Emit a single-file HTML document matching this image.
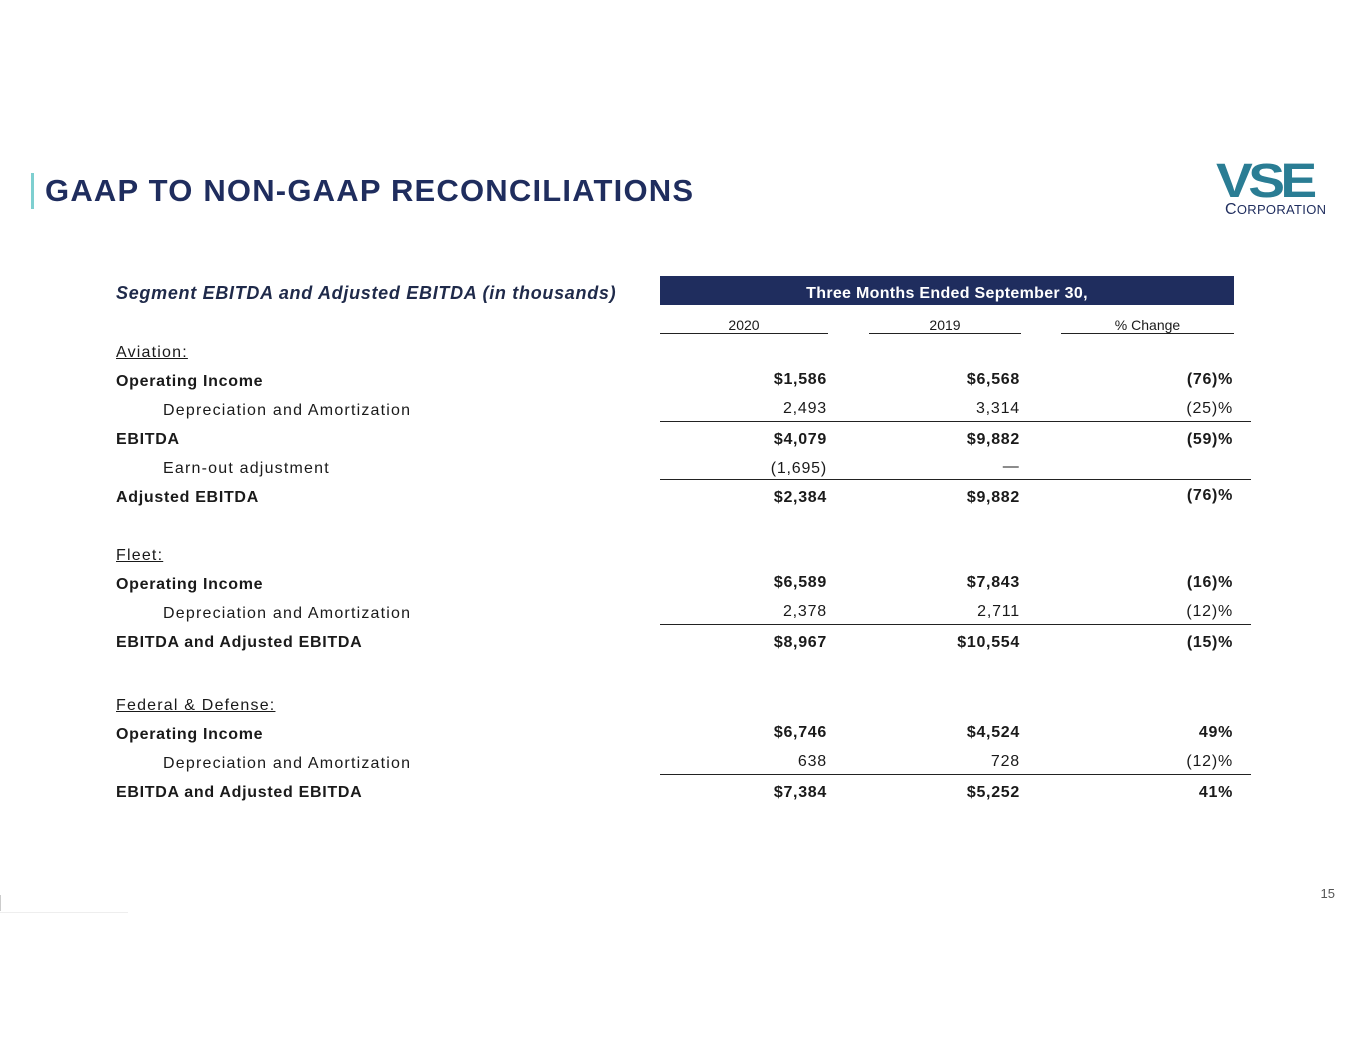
<!DOCTYPE html>
<html><head><style>
body{margin:0;width:1365px;height:1055px;background:#fff;position:relative;font-family:"Liberation Sans",sans-serif;color:#1a1a1a;overflow:hidden}
.a{position:absolute;white-space:nowrap;line-height:1}
.t{font-size:16px;letter-spacing:1.2px}
.b{font-weight:bold}
.b.t{letter-spacing:0.7px}
.r{text-align:right}
.n{letter-spacing:0.8px}
.l{position:absolute;height:1px;background:#222}
</style></head><body>
<div class="a" style="left:31px;top:173px;width:3px;height:36px;background:#7ecfd0"></div>
<div class="a b" style="left:45px;top:175px;font-size:31px;color:#1f2d5e;letter-spacing:1.2px">GAAP TO NON-GAAP RECONCILIATIONS</div>
<div class="a b" style="left:1216px;top:158px;font-size:48px;letter-spacing:-4px;color:#2a7d94;transform:scaleX(1.15);transform-origin:left">VSE</div>
<div class="a" style="left:1225px;top:202px;font-size:16px;color:#1f2d5e;letter-spacing:0.3px">C<span style="font-size:13px">ORPORATION</span></div>

<div class="a b" style="left:116px;top:284px;font-style:italic;font-size:18px;color:#1f2a4a;letter-spacing:0.7px">Segment EBITDA and Adjusted EBITDA (in thousands)</div>
<div class="a" style="left:660px;top:276px;width:574px;height:29px;background:#1f2d5e"></div>
<div class="a b" style="left:660px;top:286px;width:574px;text-align:center;color:#fff;font-size:16px;letter-spacing:0.3px">Three Months Ended September 30,</div>
<div class="a" style="left:660px;top:318px;width:168px;text-align:center;font-size:14px">2020</div>
<div class="a" style="left:869px;top:318px;width:152px;text-align:center;font-size:14px">2019</div>
<div class="a" style="left:1061px;top:318px;width:173px;text-align:center;font-size:14px">% Change</div>
<div class="l" style="left:660px;top:333px;width:168px"></div>
<div class="l" style="left:869px;top:333px;width:152px"></div>
<div class="l" style="left:1061px;top:333px;width:173px"></div>

<div class="a t" style="left:116px;top:345px;text-decoration:underline">Aviation:</div>
<div class="a t b" style="left:116px;top:374px">Operating Income</div>
<div class="a t" style="left:163px;top:403px">Depreciation and Amortization</div>
<div class="a t b" style="left:116px;top:432px">EBITDA</div>
<div class="a t" style="left:163px;top:461px">Earn-out adjustment</div>
<div class="a t b" style="left:116px;top:490px">Adjusted EBITDA</div>
<div class="a t" style="left:116px;top:548px;text-decoration:underline">Fleet:</div>
<div class="a t b" style="left:116px;top:577px">Operating Income</div>
<div class="a t" style="left:163px;top:606px">Depreciation and Amortization</div>
<div class="a t b" style="left:116px;top:635px">EBITDA and Adjusted EBITDA</div>
<div class="a t" style="left:116px;top:698px;text-decoration:underline">Federal &amp; Defense:</div>
<div class="a t b" style="left:116px;top:727px">Operating Income</div>
<div class="a t" style="left:163px;top:756px">Depreciation and Amortization</div>
<div class="a t b" style="left:116px;top:785px">EBITDA and Adjusted EBITDA</div>

<div class="l" style="left:660px;top:421px;width:591px"></div>
<div class="l" style="left:660px;top:479px;width:591px"></div>
<div class="l" style="left:660px;top:624px;width:591px"></div>
<div class="l" style="left:660px;top:774px;width:591px"></div>

<div class="a t b r" style="right:538px;top:372px">$1,586</div><div class="a t b r" style="right:345px;top:372px">$6,568</div><div class="a t b r" style="right:132px;top:372px">(76)%</div>
<div class="a t r n" style="right:538px;top:401px">2,493</div><div class="a t r n" style="right:345px;top:401px">3,314</div><div class="a t r n" style="right:132px;top:401px">(25)%</div>
<div class="a t b r" style="right:538px;top:432px">$4,079</div><div class="a t b r" style="right:345px;top:432px">$9,882</div><div class="a t b r" style="right:132px;top:432px">(59)%</div>
<div class="a t r n" style="right:538px;top:461px">(1,695)</div><div class="a t r" style="right:345px;top:459px">—</div>
<div class="a t b r" style="right:538px;top:490px">$2,384</div><div class="a t b r" style="right:345px;top:490px">$9,882</div><div class="a t b r" style="right:132px;top:488px">(76)%</div>
<div class="a t b r" style="right:538px;top:575px">$6,589</div><div class="a t b r" style="right:345px;top:575px">$7,843</div><div class="a t b r" style="right:132px;top:575px">(16)%</div>
<div class="a t r n" style="right:538px;top:604px">2,378</div><div class="a t r n" style="right:345px;top:604px">2,711</div><div class="a t r n" style="right:132px;top:604px">(12)%</div>
<div class="a t b r" style="right:538px;top:635px">$8,967</div><div class="a t b r" style="right:345px;top:635px">$10,554</div><div class="a t b r" style="right:132px;top:635px">(15)%</div>
<div class="a t b r" style="right:538px;top:725px">$6,746</div><div class="a t b r" style="right:345px;top:725px">$4,524</div><div class="a t b r" style="right:132px;top:725px">49%</div>
<div class="a t r n" style="right:538px;top:754px">638</div><div class="a t r n" style="right:345px;top:754px">728</div><div class="a t r n" style="right:132px;top:754px">(12)%</div>
<div class="a t b r" style="right:538px;top:785px">$7,384</div><div class="a t b r" style="right:345px;top:785px">$5,252</div><div class="a t b r" style="right:132px;top:785px">41%</div>

<div class="a" style="right:30px;top:887px;font-size:13px;color:#555">15</div>
<div class="a" style="left:0;top:895px;width:1px;height:16px;background:#ccc"></div>
<div class="a" style="left:0;top:912px;width:128px;height:1px;background:#eee"></div>
</body></html>
